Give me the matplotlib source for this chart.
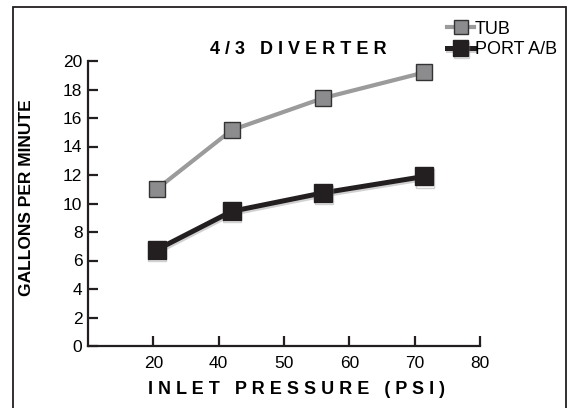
import numpy as np
import matplotlib
matplotlib.use("Agg")
import matplotlib.pyplot as plt
import matplotlib.patheffects as pe
from matplotlib.patches import Rectangle

plt.rcParams['font.family'] = ['Liberation Sans', 'DejaVu Sans']

# Daten
pressure = [21, 42, 56, 71.5]
tub = [11.0, 15.15, 17.4, 19.2]
port = [6.75, 9.45, 10.75, 11.9]
xtick_vals = [20, 40, 50, 60, 70, 80]
ytick_vals = [0, 2, 4, 6, 8, 10, 12, 14, 16, 18, 20]

# ungleichmaessige x-Achse (Ticks gleich weit auseinander)
axis_vals = [10, 20, 40, 50, 60, 70, 80]
axis_pos = np.arange(len(axis_vals))


def forward(v):
    return np.interp(v, axis_vals, axis_pos)


def inverse(p):
    return np.interp(p, axis_pos, axis_vals)


dark = '#231f20'

fig = plt.figure(figsize=(5.69, 4.08), dpi=100)
ax = fig.add_axes([88 / 569, 1 - 346 / 408, (480 - 88) / 569, (346 - 61) / 408])

# Rahmen um die ganze Grafik
fig.patches.append(Rectangle((13 / 569, -0.05), (566 - 13) / 569, 1.05 - 7 / 408,
                             transform=fig.transFigure, fill=False,
                             edgecolor=dark, linewidth=1.3))

ax.plot(pressure, tub, color='#9b9b9b', linewidth=3, marker='s', markersize=12,
        markerfacecolor='#8c8c8e', markeredgecolor='#333333', markeredgewidth=1,
        label='TUB', clip_on=False)
ax.plot(pressure, port, color=dark, linewidth=3.6, marker='s', markersize=13,
        markerfacecolor=dark, markeredgecolor=dark, label='PORT A/B', clip_on=False,
        path_effects=[pe.SimpleLineShadow(offset=(0.5, -1.5), shadow_color='0.55', alpha=0.4),
                      pe.Normal()])

ax.set_xscale('function', functions=(forward, inverse))
ax.set_xlim(10, 80)
ax.set_ylim(0, 20)
ax.set_xticks(xtick_vals)
ax.set_xticklabels([str(v) for v in xtick_vals])
ax.set_yticks(ytick_vals)
ax.minorticks_off()

for s in ['top', 'right']:
    ax.spines[s].set_visible(False)
for s in ['left', 'bottom']:
    ax.spines[s].set_linewidth(1.6)
    ax.spines[s].set_color(dark)
ax.tick_params(axis='both', direction='in', length=7, width=1.6, color=dark,
               labelsize=12.5, labelcolor='black')
ax.tick_params(axis='x', pad=7.5)
ax.tick_params(axis='y', pad=4)

fig.text(298 / 569, 1 - 49 / 408, '4 / 3   D I V E R T E R', ha='center', va='center',
         fontsize=13, fontweight='bold')
fig.text(297 / 569, 1 - 389 / 408, 'I N L E T   P R E S S U R E   ( P S I )',
         ha='center', va='center', fontsize=13, fontweight='bold')
fig.text(27 / 569, 1 - 198 / 408, 'GALLONS PER MINUTE', ha='center', va='center',
         rotation=90, fontsize=12.5, fontweight='bold')

leg = fig.legend(loc='center left', bbox_to_anchor=(447 / 569, 1 - 39.5 / 408),
                 frameon=False, borderpad=0, handlelength=1.5, handletextpad=0.05,
                 labelspacing=0.2, fontsize=13, borderaxespad=0, markerscale=0.85)

fig.savefig('out.png', dpi=100)
